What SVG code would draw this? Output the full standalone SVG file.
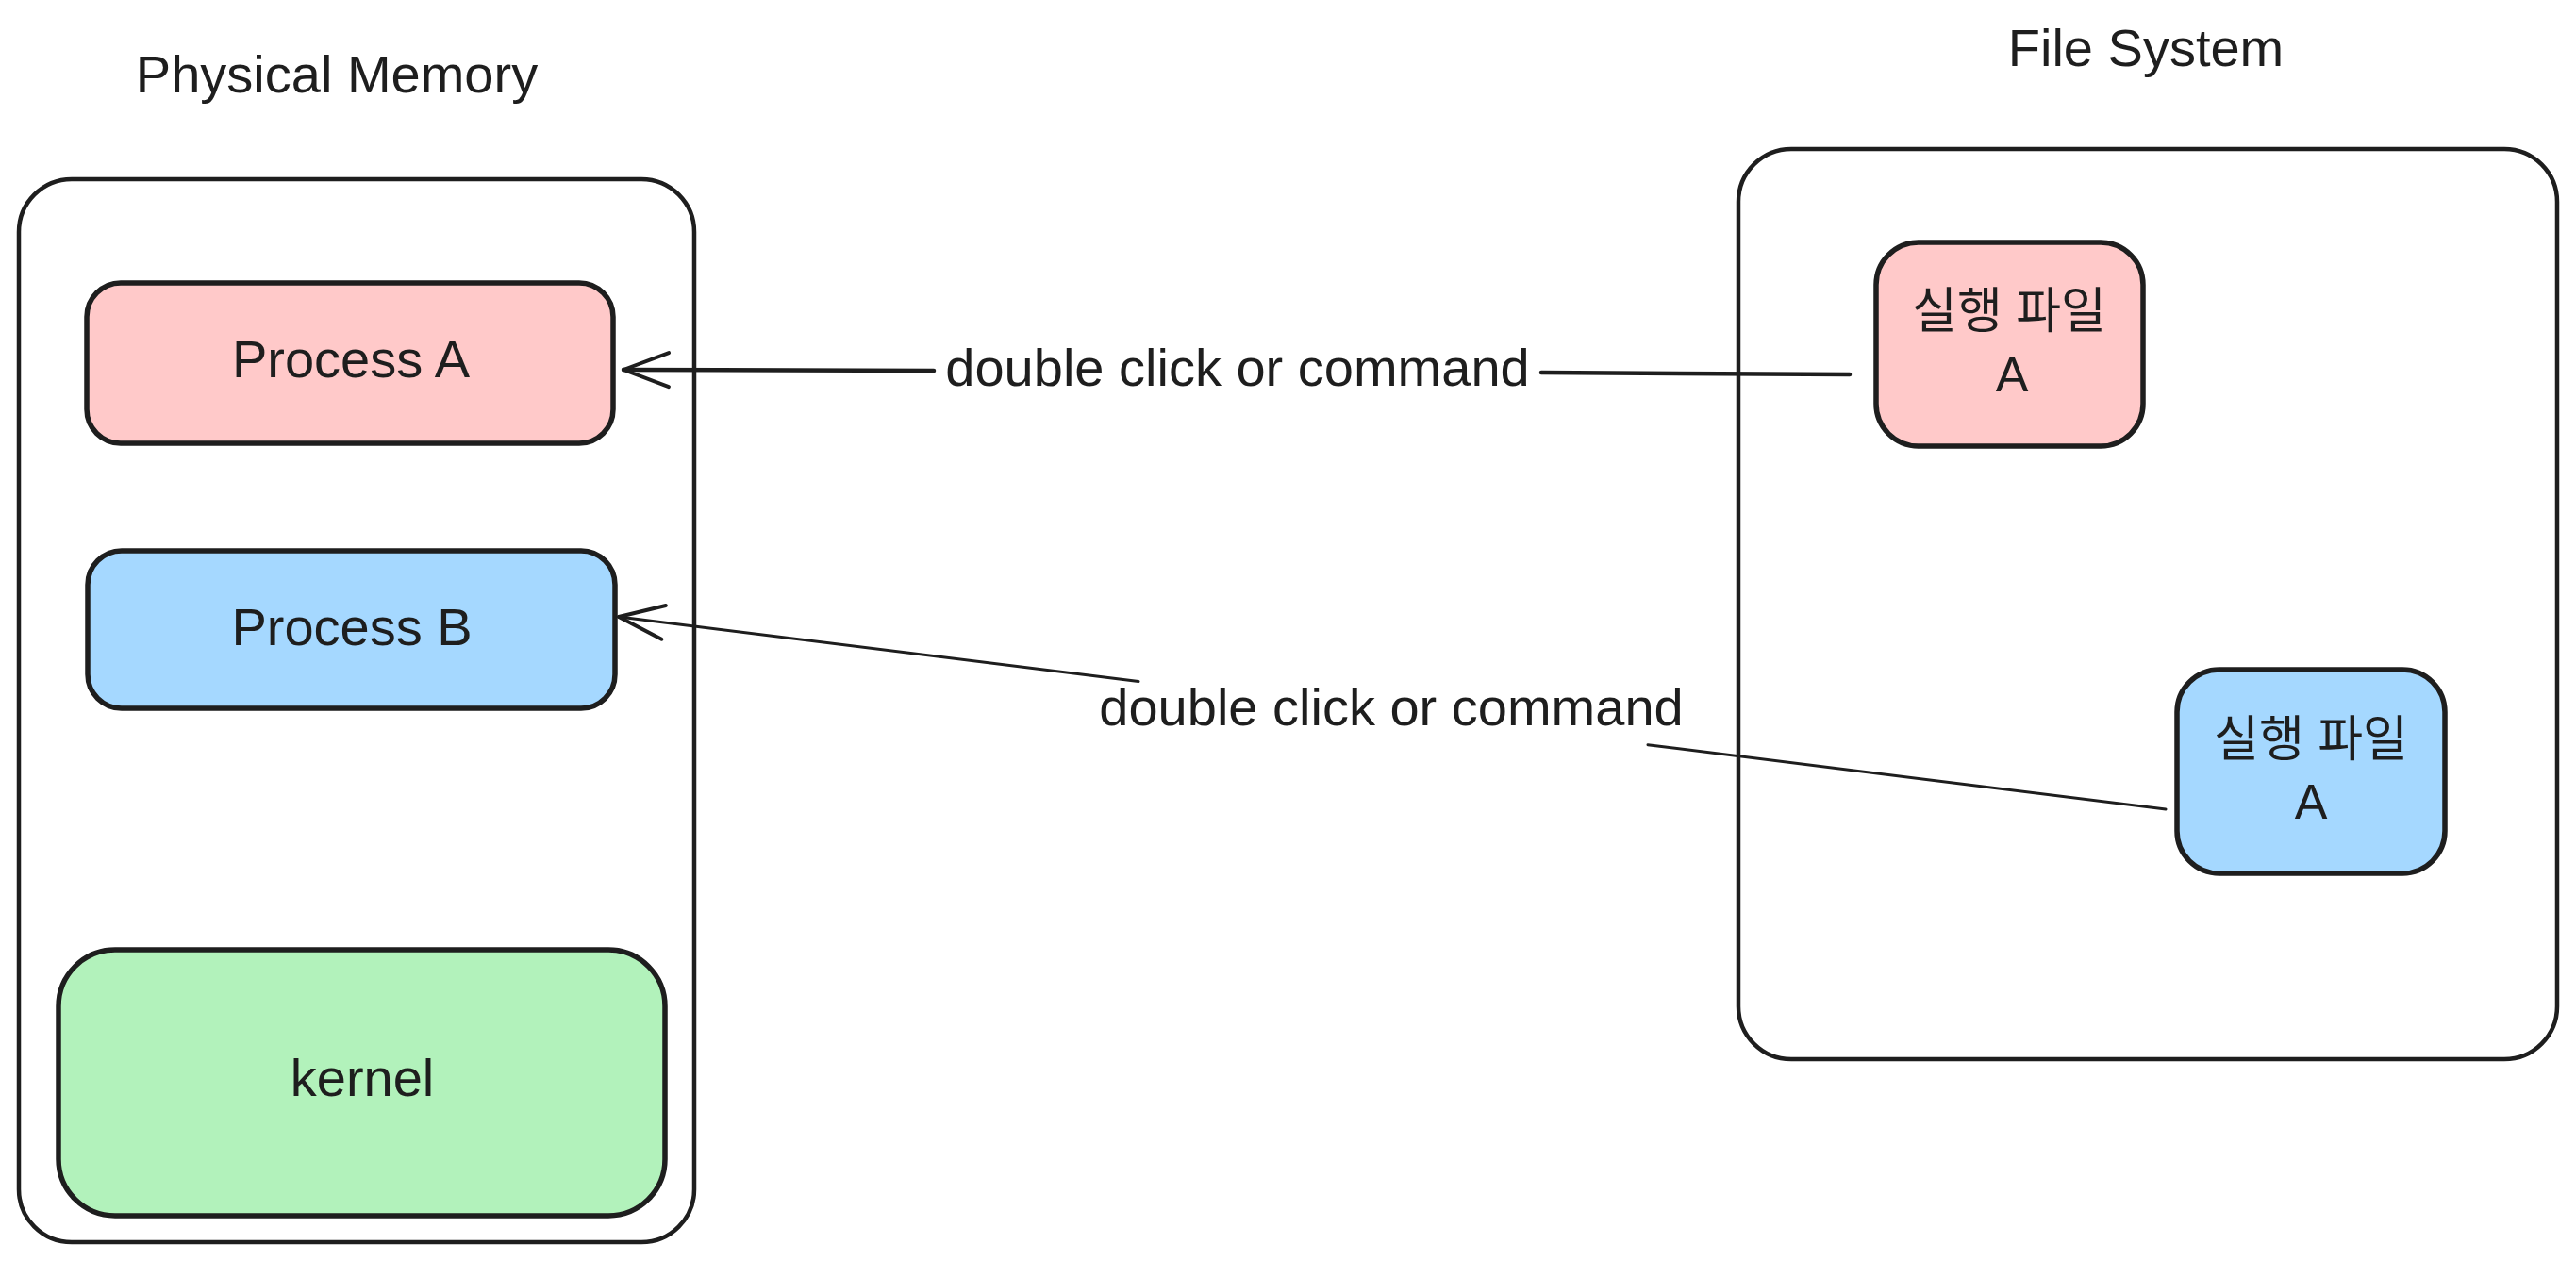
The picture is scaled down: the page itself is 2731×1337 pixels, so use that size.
<svg xmlns="http://www.w3.org/2000/svg" width="2731" height="1337" viewBox="0 0 2731 1337">
  <style>
    .box { stroke: #1e1e1e; stroke-width: 4.5; fill: none; stroke-linejoin: round; }
    .inner { stroke: #1e1e1e; stroke-width: 5.5; stroke-linejoin: round; }
    .txt { font-family: 'Liberation Sans', 'Noto Sans CJK KR', sans-serif; fill: #1e1e1e; text-anchor: middle; }
    .conn { stroke: #1e1e1e; fill: none; stroke-linecap: round; }
  </style>
  <defs>
    <marker id="arrow" viewBox="-60 -30 70 60" refX="0" refY="0" markerWidth="70" markerHeight="60" markerUnits="userSpaceOnUse" orient="auto-start-reverse" overflow="visible">
      <path d="M-48,-18 L0,0 L-48,18" fill="none" stroke="#1e1e1e" stroke-width="4" stroke-linecap="round" stroke-linejoin="round"/>
    </marker>
  </defs>
  <rect width="2731" height="1337" fill="#ffffff"/>

  <g id="physical-memory">
    <rect class="box" x="20" y="190" width="716" height="1127" rx="56" ry="56"/>
    <text class="txt" x="357" y="98" font-size="56">Physical Memory</text>
  </g>

  <g id="file-system">
    <rect class="box" x="1843" y="158" width="868" height="965" rx="56" ry="56"/>
    <text class="txt" x="2275" y="70" font-size="56">File System</text>
  </g>

  <g id="process-a">
    <rect class="inner" x="92" y="300" width="558" height="170" rx="36" ry="36" fill="#ffc9c9"/>
    <text class="txt" x="372" y="400" font-size="56">Process A</text>
  </g>

  <g id="process-b">
    <rect class="inner" x="93" y="584" width="559" height="167" rx="36" ry="36" fill="#a5d8ff"/>
    <text class="txt" x="373" y="684" font-size="56">Process B</text>
  </g>

  <g id="kernel">
    <rect class="inner" x="62" y="1007" width="643" height="282" rx="60" ry="60" fill="#b2f2bb"/>
    <text class="txt" x="384" y="1162" font-size="56">kernel</text>
  </g>

  <g id="exec-file-a-pink">
    <rect class="inner" x="1989" y="257" width="283" height="216" rx="45" ry="45" fill="#ffc9c9"/>
    <text class="txt" x="2130" y="348" font-size="52">실행 파일</text>
    <text class="txt" x="2133" y="415" font-size="52">A</text>
  </g>

  <g id="exec-file-a-blue">
    <rect class="inner" x="2308" y="710" width="284" height="216" rx="45" ry="45" fill="#a5d8ff"/>
    <text class="txt" x="2450" y="802" font-size="52">실행 파일</text>
    <text class="txt" x="2450" y="868" font-size="52">A</text>
  </g>

  <g id="connectors">
    <path class="conn" stroke-width="4.5" d="M661,392 L990,393" marker-start="url(#arrow)"/>
    <path class="conn" stroke-width="4.5" d="M1634,395 L1961,397"/>
    <text class="txt" x="1312" y="409" font-size="56">double click or command</text>

    <path class="conn" stroke-width="3" d="M656,654 L1207,722.5" marker-start="url(#arrow)"/>
    <path class="conn" stroke-width="3" d="M1747,789.7 L2296,858"/>
    <text class="txt" x="1475" y="769" font-size="56">double click or command</text>
  </g>
</svg>
